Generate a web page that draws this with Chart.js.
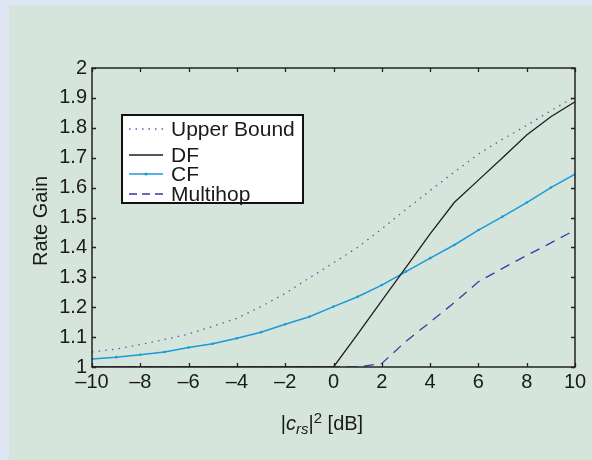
<!DOCTYPE html>
<html>
<head>
<meta charset="utf-8">
<script src="https://cdn.jsdelivr.net/npm/chart.js@4/dist/chart.umd.min.js"></script>
<style>
  html, body { margin: 0; padding: 0; background: #d6e5dc; overflow: hidden; }
  #wrap { width: 592px; height: 460px; }
  canvas { display: block; }
</style>
</head>
<body>
<div id="wrap"><canvas id="c" width="592" height="460"></canvas></div>
<script>
const xValues    = [-10, -9, -8, -7, -6, -5, -4, -3, -2, -1, 0, 1, 2, 3, 4, 5, 6, 7, 8, 9, 10];
const upperBound = [1.05, 1.06, 1.075, 1.092, 1.11, 1.136, 1.163, 1.202, 1.246, 1.298, 1.348, 1.40, 1.462, 1.527, 1.59, 1.652, 1.712, 1.762, 1.808, 1.857, 1.904];
const dfGain     = [1, 1, 1, 1, 1, 1, 1, 1, 1, 1, 1, 1.11, 1.222, 1.333, 1.445, 1.55, 1.625, 1.70, 1.776, 1.837, 1.887];
const cfGain     = [1.027, 1.033, 1.041, 1.050, 1.065, 1.078, 1.096, 1.116, 1.143, 1.168, 1.202, 1.235, 1.274, 1.319, 1.364, 1.408, 1.458, 1.503, 1.55, 1.60, 1.645];
const multihop   = [1, 1, 1, 1, 1, 1, 1, 1, 1, 1, 1, 1, 1.012, 1.086, 1.15, 1.215, 1.285, 1.33, 1.373, 1.415, 1.458];
const xTicks     = [-10, -8, -6, -4, -2, 0, 2, 4, 6, 8, 10];
const xTickLabels = ['\u201310', '\u20138', '\u20136', '\u20134', '\u20132', '0', '2', '4', '6', '8', '10'];
const yTickLabels = ['1', '1.1', '1.2', '1.3', '1.4', '1.5', '1.6', '1.7', '1.8', '1.9', '2'];
const seriesNames = ['Upper Bound', 'DF', 'CF', 'Multihop'];

const FONT = '"Liberation Sans", Arial, Helvetica, sans-serif';
const C_UB = '#5a5ab4', C_DF = '#1e1e1e', C_CF = '#1a9ad8', C_MH = '#3a3aa8';
const pts = arr => arr.map((y, i) => ({ x: xValues[i], y }));

const decor = {
  id: 'decor',
  beforeDraw(chart) {
    const ctx = chart.ctx;
    const W = ctx.canvas.width, H = ctx.canvas.height;
    ctx.save();
    ctx.fillStyle = '#d6e5dc';
    ctx.fillRect(0, 0, W, H);
    ctx.fillStyle = '#dfe6f3';
    ctx.fillRect(0, 0, W, 5);
    ctx.fillRect(0, 0, 9, H);
    ctx.restore();
  },
  afterDatasetsDraw(chart) {
    const ctx = chart.ctx, a = chart.chartArea;
    const xs = chart.scales.x, ys = chart.scales.y;
    ctx.save();
    // inward ticks
    ctx.strokeStyle = '#222';
    ctx.lineWidth = 1.3;
    ctx.beginPath();
    xs.ticks.forEach(t => {
      const p = Math.round(xs.getPixelForValue(t.value)) + 0.5;
      ctx.moveTo(p, a.bottom); ctx.lineTo(p, a.bottom - 4);
      ctx.moveTo(p, a.top); ctx.lineTo(p, a.top + 4);
    });
    ys.ticks.forEach(t => {
      const p = Math.round(ys.getPixelForValue(t.value)) + 0.5;
      ctx.moveTo(a.left, p); ctx.lineTo(a.left + 4, p);
      ctx.moveTo(a.right, p); ctx.lineTo(a.right - 4, p);
    });
    ctx.stroke();
    // frame
    ctx.lineWidth = 1.5;
    ctx.strokeRect(a.left, a.top, a.right - a.left, a.bottom - a.top);

    // legend box
    const lx = 122, ly = 115, lw = 181, lh = 88;
    ctx.fillStyle = '#ffffff';
    ctx.fillRect(lx, ly, lw, lh);
    ctx.strokeStyle = '#111';
    ctx.lineWidth = 2;
    ctx.strokeRect(lx, ly, lw, lh);
    const rows = [129, 155, 174, 194];
    const styles = [
      { c: C_UB, dash: [1.5, 5], w: 1.3 },
      { c: C_DF, dash: [], w: 1.3 },
      { c: C_CF, dash: [], w: 1.5, marker: true },
      { c: C_MH, dash: [8, 5], w: 1.3 }
    ];
    ctx.font = '21px ' + FONT;
    ctx.textBaseline = 'middle';
    ctx.textAlign = 'left';
    seriesNames.forEach((name, i) => {
      const s = styles[i], y = rows[i];
      ctx.strokeStyle = s.c;
      ctx.lineWidth = s.w;
      ctx.setLineDash(s.dash);
      ctx.beginPath();
      ctx.moveTo(129, y); ctx.lineTo(163, y);
      ctx.stroke();
      ctx.setLineDash([]);
      if (s.marker) {
        ctx.fillStyle = s.c;
        ctx.beginPath(); ctx.arc(146, y, 1.5, 0, Math.PI * 2); ctx.fill();
      }
      ctx.fillStyle = '#1a1a1a';
      ctx.fillText(name, 171, y + 1);
    });

    // y title
    ctx.save();
    ctx.translate(41, 221);
    ctx.rotate(-Math.PI / 2);
    ctx.textAlign = 'center';
    ctx.textBaseline = 'middle';
    ctx.fillStyle = '#1a1a1a';
    ctx.font = '20px ' + FONT;
    ctx.fillText('Rate Gain', 0, 0);
    ctx.restore();

    // x title: |c_rs|^2 [dB]
    const parts = [
      { t: '|', f: '20px ' + FONT, dy: 0 },
      { t: 'c', f: 'italic 20px ' + FONT, dy: 0 },
      { t: 'rs', f: 'italic 15px ' + FONT, dy: 4 },
      { t: '|', f: '20px ' + FONT, dy: 0 },
      { t: '2', f: '15px ' + FONT, dy: -7 },
      { t: ' [dB]', f: '20px ' + FONT, dy: 0 }
    ];
    let total = 0;
    parts.forEach(p => { ctx.font = p.f; p.w = ctx.measureText(p.t).width; total += p.w; });
    let cx = 322 - total / 2;
    const base = 430;
    ctx.textAlign = 'left';
    ctx.textBaseline = 'alphabetic';
    ctx.fillStyle = '#1a1a1a';
    parts.forEach(p => { ctx.font = p.f; ctx.fillText(p.t, cx, base + p.dy); cx += p.w; });
    ctx.restore();
  }
};

new Chart(document.getElementById('c'), {
  type: 'line',
  data: {
    datasets: [
      { label: seriesNames[0], data: pts(upperBound), borderColor: C_UB, borderWidth: 1.3, borderDash: [1.5, 5.2], pointRadius: 0, tension: 0 },
      { label: seriesNames[1], data: pts(dfGain), borderColor: C_DF, borderWidth: 1.3, pointRadius: 0, tension: 0 },
      { label: seriesNames[2], data: pts(cfGain), borderColor: C_CF, backgroundColor: C_CF, borderWidth: 1.5, pointRadius: 1.3, pointBorderWidth: 0, pointBackgroundColor: C_CF, tension: 0 },
      { label: seriesNames[3], data: pts(multihop), borderColor: C_MH, borderWidth: 1.3, borderDash: [10, 7], pointRadius: 0, tension: 0 }
    ]
  },
  options: {
    responsive: false,
    animation: false,
    devicePixelRatio: 1,
    layout: { padding: { left: 0, top: 68, right: 17, bottom: 0 } },
    plugins: { legend: { display: false }, tooltip: { enabled: false } },
    scales: {
      x: {
        type: 'linear', min: -10, max: 10,
        afterFit: s => { s.height = 93; },
        afterBuildTicks: s => { s.ticks = xTicks.map(v => ({ value: v })); },
        grid: { display: false, drawTicks: false },
        border: { display: false },
        ticks: {
          padding: 3, color: '#1a1a1a', maxRotation: 0, autoSkip: false,
          font: { family: FONT, size: 20 },
          callback: (v) => { const i = xTicks.indexOf(v); return i >= 0 ? xTickLabels[i] : ''; }
        }
      },
      y: {
        type: 'linear', min: 1, max: 2,
        afterFit: s => { s.width = 92; },
        afterBuildTicks: s => { s.ticks = yTickLabels.map(l => ({ value: parseFloat(l) })); },
        grid: { display: false, drawTicks: false },
        border: { display: false },
        ticks: {
          padding: 5, color: '#1a1a1a', autoSkip: false,
          font: { family: FONT, size: 20 },
          callback: (v) => { const i = yTickLabels.findIndex(l => Math.abs(parseFloat(l) - v) < 1e-9); return i >= 0 ? yTickLabels[i] : ''; }
        }
      }
    }
  },
  plugins: [decor]
});
</script>
</body>
</html>
